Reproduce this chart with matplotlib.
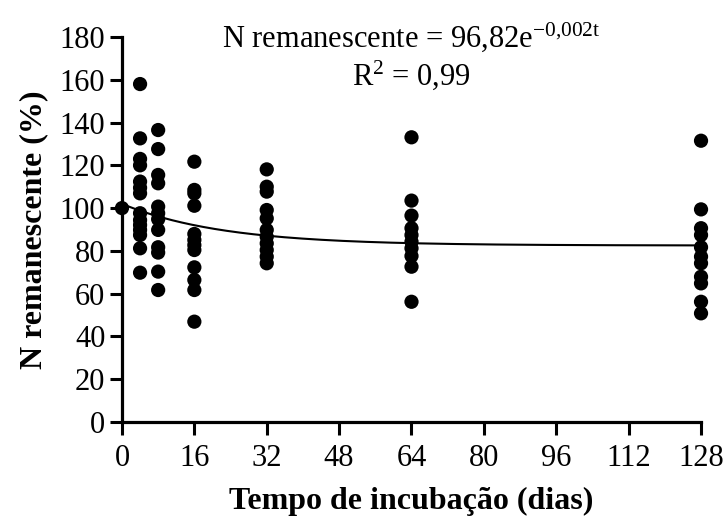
import numpy as np
import matplotlib
matplotlib.use("Agg")
import matplotlib.pyplot as plt

plt.rcParams['font.family'] = ['Liberation Serif', 'DejaVu Serif']
plt.rcParams['mathtext.fontset'] = 'custom'
plt.rcParams['mathtext.rm'] = 'Liberation Serif'
plt.rcParams['mathtext.it'] = 'Liberation Serif:italic'

# dados: dias de incubacao e N remanescente (%)
dias = [0, 4, 8, 16, 32, 64, 128]
n_rem = [
    [100],
    [158, 132.6, 123, 120, 112.4, 109.5, 106.9, 97.6, 94.4, 92.1, 89.8, 87.4, 81.2, 69.8],
    [136.5, 127.6, 115.5, 111.6, 100.7, 97.6, 94.8, 89.8, 81.7, 79.2, 70.3, 61.7],
    [121.7, 108.5, 106.9, 101.1, 87.9, 85.1, 82.7, 80.4, 72.3, 66.4, 61.7, 46.9],
    [118.1, 110, 107.7, 99.1, 95.2, 89.8, 86.6, 83.5, 80.4, 77.3, 74.2],
    [133.1, 103.5, 96.5, 90.6, 87.4, 84.3, 81.2, 77.6, 72.6, 56.2],
    [131.5, 99.4, 90.6, 87.4, 81.7, 77.3, 74.2, 67.9, 64.8, 56.2, 50.8],
]
# parametros da curva ajustada (como desenhada)
assint, amp, k = 82.5, 19.5, 0.045

xticks = [0, 16, 32, 48, 64, 80, 96, 112, 128]
yticks = list(range(0, 181, 20))

fig = plt.figure(figsize=(7.26, 5.24), dpi=100)
ax = fig.add_axes([0.168, 0.1947, 0.7976, 0.7347])

for d, vals in zip(dias, n_rem):
    ax.scatter([d] * len(vals), vals, s=105, c='black', edgecolor='none', zorder=3, clip_on=False)

t = np.linspace(0, 128, 300)
ax.plot(t, assint + amp * np.exp(-k * t), color='black', linewidth=1.5, zorder=2)

ax.set_xlim(0, 128)
ax.set_ylim(0, 180)
ax.set_xticks(xticks)
ax.set_yticks(yticks)
ax.spines['top'].set_visible(False)
ax.spines['right'].set_visible(False)
ax.spines['left'].set_linewidth(2.3)
ax.spines['bottom'].set_linewidth(2.3)
ax.tick_params(axis='both', labelsize=22, length=9, width=2.2, direction='out')
ax.tick_params(axis='x', pad=7)
ax.tick_params(axis='y', pad=3)

ax.set_xlabel("Tempo de incubação (dias)", fontsize=23, fontweight='bold', labelpad=10)
ax.set_ylabel("N remanescente (%)", fontsize=23, fontweight='bold', labelpad=8)

ax.text(0.5, 1.0, r"N remanescente = 96,82e$^{\mathrm{-0{,}002t}}$", transform=ax.transAxes,
        ha='center', va='center', fontsize=22)
ax.text(0.5, 0.9, r"R$^{\mathrm{2}}$ = 0,99", transform=ax.transAxes,
        ha='center', va='center', fontsize=22)

fig.savefig("out.png", dpi=100)
